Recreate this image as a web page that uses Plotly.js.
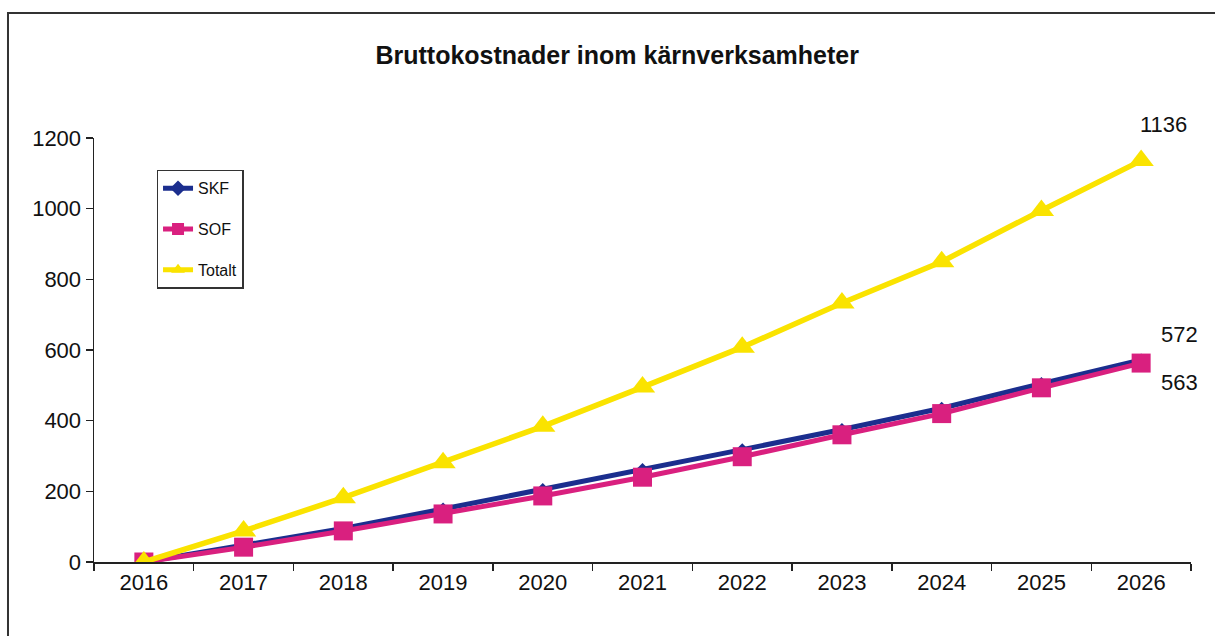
<!DOCTYPE html>
<html>
<head>
<meta charset="utf-8">
<script src="https://cdn.plot.ly/plotly-3.0.1.min.js"></script>
<style>
  html, body { margin: 0; padding: 0; background: #ffffff; }
  #chart { width: 1215px; height: 636px; }
</style>
</head>
<body>
<div id="chart"></div>
<script>
const years = ["2016","2017","2018","2019","2020","2021","2022","2023","2024","2025","2026"];
const skf = [0, 46, 95, 150, 205, 262, 318, 375, 435, 505, 572];
const sof = [0, 42, 88, 136, 187, 240, 298, 360, 420, 493, 563];
const totalt = [0, 88, 182, 281, 384, 495, 608, 733, 850, 995, 1136];
const seriesNames = ["SKF", "SOF", "Totalt"];
const endLabels = ["572", "563", "1136"];
const yTicks = [0, 200, 400, 600, 800, 1000, 1200];

const font = "Liberation Sans, Arial, sans-serif";

const traces = [
  {
    x: years, y: skf, name: seriesNames[0], type: "scatter", mode: "lines+markers",
    legendgroup: "a",
    line: { color: "#1B2E8E", width: 5 },
    marker: { symbol: "diamond", size: 10, color: "#1B2E8E" }
  },
  {
    x: years, y: sof, name: seriesNames[1], type: "scatter", mode: "lines+markers",
    legendgroup: "b",
    line: { color: "#D9207F", width: 5 },
    marker: { symbol: "square", size: 19, color: "#D9207F" }
  },
  {
    x: years, y: totalt, name: seriesNames[2], type: "scatter", mode: "lines+markers",
    legendgroup: "c",
    line: { color: "#FAE300", width: 5.5 },
    marker: { symbol: "triangle-up", size: 22, color: "#FAE300" }
  }
];

const last = years.length - 1;
const annotations = [
  { x: last, y: totalt[last], text: endLabels[2], xshift: 22, yshift: 36 },
  { x: last, y: skf[last], text: endLabels[0], xshift: 38, yshift: 25 },
  { x: last, y: sof[last], text: endLabels[1], xshift: 38, yshift: -19 }
].map(a => Object.assign({
  xref: "x", yref: "y", showarrow: false,
  xanchor: "center", yanchor: "middle",
  font: { family: font, size: 22, color: "#111111" }
}, a));

const layout = {
  width: 1215, height: 636,
  paper_bgcolor: "#ffffff", plot_bgcolor: "#ffffff",
  margin: { l: 94, r: 24, t: 138, b: 74 },
  title: {
    text: "<b>Bruttokostnader inom kärnverksamheter</b>",
    font: { family: font, size: 25, color: "#111111" },
    x: 0.508, xanchor: "center", y: 0.913, yanchor: "middle"
  },
  showlegend: true,
  legend: {
    x: 0.057, y: 0.925, xanchor: "left", yanchor: "top",
    bgcolor: "#ffffff", bordercolor: "#333333", borderwidth: 1.5,
    font: { family: font, size: 16, color: "#111111" },
    traceorder: "grouped", tracegroupgap: 17,
    itemsizing: "constant",
    itemwidth: 30
  },
  xaxis: {
    type: "category",
    categoryorder: "array", categoryarray: years,
    tickson: "boundaries",
    ticks: "outside", ticklen: 7, tickcolor: "#222222", tickwidth: 1.5,
    showline: true, linecolor: "#222222", linewidth: 1.5,
    showgrid: false, zeroline: false,
    tickfont: { family: font, size: 22, color: "#111111" },
    range: [-0.5, 10.5], fixedrange: true
  },
  yaxis: {
    range: [0, 1200],
    tickmode: "array", tickvals: yTicks,
    ticks: "outside", ticklen: 7, tickcolor: "#222222", tickwidth: 1.5,
    showline: true, linecolor: "#222222", linewidth: 1.5,
    showgrid: false, zeroline: false,
    tickfont: { family: font, size: 22, color: "#111111" },
    fixedrange: true
  },
  annotations: annotations,
  shapes: [
    {
      type: "rect", xref: "paper", yref: "paper",
      x0: -0.0784, x1: 1.06, y0: -0.3, y1: 1.2948,
      line: { color: "#333333", width: 2 }, fillcolor: "rgba(0,0,0,0)"
    }
  ]
};

Plotly.newPlot("chart", traces, layout, { staticPlot: true, displayModeBar: false });
</script>
</body>
</html>
